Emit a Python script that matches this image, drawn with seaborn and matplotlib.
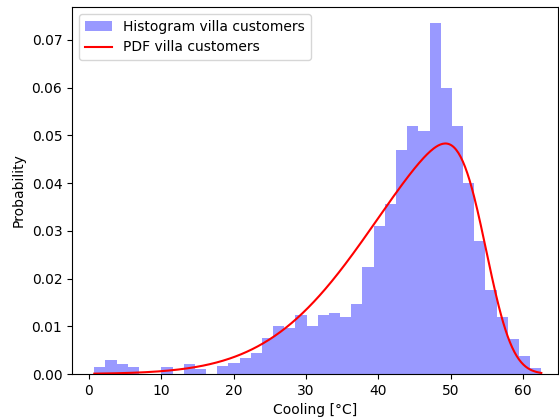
import math
import numpy as np
import pandas as pd
import matplotlib
matplotlib.use("Agg")
import matplotlib.pyplot as plt
import seaborn as sns

# Histogram of cooling for villa customers: 40 equal-width bins, density per bin
bin_start = 0.73
bin_width = 1.545
density = [
    0.0014, 0.0030, 0.0020, 0.0014, 0.0000, 0.0000, 0.0014, 0.0000,
    0.0020, 0.0010, 0.0000, 0.0016, 0.0023, 0.0033, 0.0044, 0.0075,
    0.0100, 0.0096, 0.0123, 0.0100, 0.0123, 0.0127, 0.0119, 0.0146,
    0.0225, 0.0310, 0.0356, 0.0470, 0.0520, 0.0510, 0.0735, 0.0599,
    0.0520, 0.0400, 0.0279, 0.0176, 0.0119, 0.0073, 0.0038, 0.0012,
]

# Fitted skew-normal PDF (shape, location, scale)
pdf_shape = -5.0
pdf_loc = 54.8
pdf_scale = 14.93

edges = [bin_start + bin_width * i for i in range(len(density) + 1)]
hist_df = pd.DataFrame({
    "cooling": [0.5 * (edges[i] + edges[i + 1]) for i in range(len(density))],
    "density": density,
})


def skewnorm_pdf(x, a, loc, scale):
    z = (x - loc) / scale
    phi = np.exp(-0.5 * z ** 2) / math.sqrt(2 * math.pi)
    cdf = 0.5 * (1 + np.vectorize(math.erf)(a * z / math.sqrt(2)))
    return 2.0 / scale * phi * cdf


x_pdf = np.linspace(edges[0], edges[-1], 400)
pdf_df = pd.DataFrame({"cooling": x_pdf,
                       "pdf": skewnorm_pdf(x_pdf, pdf_shape, pdf_loc, pdf_scale)})

fig = plt.figure(figsize=(5.59, 4.2), dpi=100)
ax = fig.add_axes([72 / 559, 1 - 374 / 420, (558 - 72) / 559, (374 - 7) / 420])

sns.histplot(data=hist_df, x="cooling", weights="density", bins=edges,
             stat="count", color="blue", alpha=0.4, linewidth=0, ax=ax,
             label="Histogram villa customers")
sns.lineplot(data=pdf_df, x="cooling", y="pdf", color="red", linewidth=1.5,
             ax=ax, label="PDF villa customers")

ax.set_xlim(-2.35, 64.84)
ax.set_ylim(0, 0.0769)
ax.set_xlabel("Cooling [°C]")
ax.set_ylabel("Probability")

# Histogram entry first, then the PDF line
handles, labels = ax.get_legend_handles_labels()
order = [labels.index("Histogram villa customers"), labels.index("PDF villa customers")]
ax.legend([handles[i] for i in order], [labels[i] for i in order], loc="upper left")

fig.savefig("out.png", dpi=100)
